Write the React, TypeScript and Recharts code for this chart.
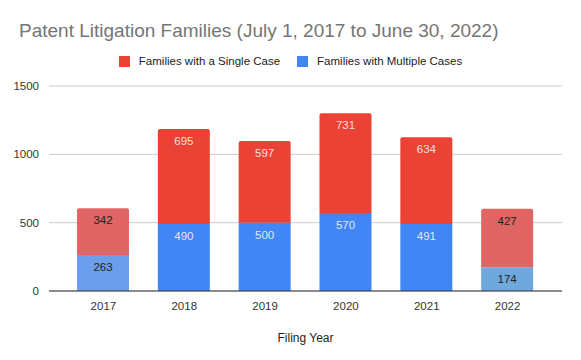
import { BarChart, Bar, XAxis, YAxis, CartesianGrid, Legend, LabelList, Cell } from "recharts"

const years = ["2017", "2018", "2019", "2020", "2021", "2022"]
const multipleCases = [263, 490, 500, 570, 491, 174]
const singleCase = [342, 695, 597, 731, 634, 427]
const partialYears = ["2017", "2022"]
const yTicks = [0, 500, 1000, 1500]

const RED = "#ea4335"
const BLUE = "#4285f4"
const RED_FADED = "#e06666"
const BLUE_FADED_A = "#6d9eeb"
const BLUE_FADED_B = "#6fa8dc"

const data = years.map((year, i) => ({
  year,
  multiple: multipleCases[i],
  single: singleCase[i],
}))

const fontFamily = "Arial, 'Liberation Sans', sans-serif"

function makeLabel(key: "multiple" | "single") {
  return (props: any) => {
    const { x, y, width, index } = props
    const partial = partialYears.includes(years[index])
    const value = key === "multiple" ? multipleCases[index] : singleCase[index]
    return (
      <text
        x={Number(x) + Number(width) / 2}
        y={Number(y) + 16}
        textAnchor="middle"
        fontSize={11.5}
        fontFamily={fontFamily}
        fill={partial ? "#222222" : "#ffffff"}
        fillOpacity={partial ? 1 : 0.85}
      >
        {value}
      </text>
    )
  }
}

function LegendContent() {
  const items = [
    { label: "Families with a Single Case", color: RED },
    { label: "Families with Multiple Cases", color: BLUE },
  ]
  return (
    <div style={{ display: "flex", justifyContent: "center", fontFamily, fontSize: 11.5, color: "#222", lineHeight: "14px" }}>
      {items.map((it, i) => (
        <div key={it.label} style={{ display: "flex", alignItems: "center", marginLeft: i === 0 ? 0 : 17 }}>
          <span style={{ width: 11, height: 11, background: it.color, display: "inline-block", marginRight: 9 }} />
          <span>{it.label}</span>
        </div>
      ))}
    </div>
  )
}

export default function App() {
  return (
    <div style={{ position: "absolute", left: 0, top: 0, width: 581, height: 360, background: "#fff" }}>
      <div
        style={{
          position: "absolute",
          left: 19,
          top: 20,
          fontFamily,
          fontSize: 19,
          color: "#757575",
          whiteSpace: "nowrap",
        }}
      >
        Patent Litigation Families (July 1, 2017 to June 30, 2022)
      </div>
      <BarChart
        width={581}
        height={360}
        data={data}
        margin={{ top: 72, right: 19, bottom: 17, left: 0 }}
        barCategoryGap={0}
      >
        <CartesianGrid vertical={false} stroke="#cccccc" />
        <XAxis
          dataKey="year"
          tickLine={false}
          axisLine={{ stroke: "#333333" }}
          height={52}
          padding={{ left: 14, right: 14 }}
          tick={{ fontSize: 11.5, fill: "#333333", fontFamily }}
          tickMargin={5}
          label={{ value: "Filing Year", position: "insideBottom", offset: 1, fontSize: 12, fill: "#222222", fontFamily }}
        />
        <YAxis
          width={49}
          domain={[0, 1500]}
          ticks={yTicks}
          tickLine={false}
          axisLine={false}
          tick={{ fontSize: 11.5, fill: "#333333", fontFamily }}
          tickMargin={4}
        />
        <Legend
          verticalAlign="top"
          content={<LegendContent />}
          wrapperStyle={{ top: 54, left: 0, width: 581 }}
        />
        <Bar dataKey="multiple" stackId="a" barSize={52} isAnimationActive={false} name="Families with Multiple Cases">
          {years.map((y, i) => (
            <Cell key={y} fill={i === 0 ? BLUE_FADED_A : i === years.length - 1 ? BLUE_FADED_B : BLUE} />
          ))}
          <LabelList dataKey="multiple" content={makeLabel("multiple")} />
        </Bar>
        <Bar
          dataKey="single"
          stackId="a"
          barSize={52}
          radius={[2, 2, 0, 0]}
          isAnimationActive={false}
          name="Families with a Single Case"
        >
          {years.map((y) => (
            <Cell key={y} fill={partialYears.includes(y) ? RED_FADED : RED} />
          ))}
          <LabelList dataKey="single" content={makeLabel("single")} />
        </Bar>
      </BarChart>
    </div>
  )
}
